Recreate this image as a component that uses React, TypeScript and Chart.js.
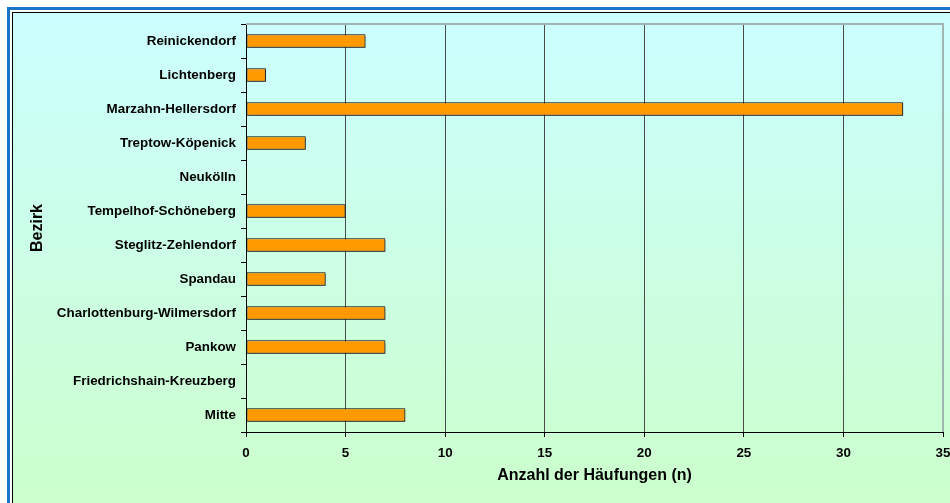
import React, { useEffect, useRef } from 'react';
import { Chart, registerables } from 'chart.js';
Chart.register(...registerables);

const districts = [
  'Reinickendorf',
  'Lichtenberg',
  'Marzahn-Hellersdorf',
  'Treptow-Köpenick',
  'Neukölln',
  'Tempelhof-Schöneberg',
  'Steglitz-Zehlendorf',
  'Spandau',
  'Charlottenburg-Wilmersdorf',
  'Pankow',
  'Friedrichshain-Kreuzberg',
  'Mitte',
];
const counts = [6, 1, 33, 3, 0, 5, 7, 4, 7, 7, 0, 8];
const xMin = 0;
const xMax = 35;
const xStep = 5;
const xTitle = 'Anzahl der Häufungen (n)';
const yTitle = 'Bezirk';

const FONT = '"Liberation Sans", Arial, sans-serif';

export default function App() {
  const ref = useRef<HTMLCanvasElement>(null);
  useEffect(() => {
    document.body.style.margin = '0';
    document.body.style.overflow = 'hidden';
    if (!ref.current) return;
    Chart.defaults.color = '#000';
    const shadow = {
      id: 'barShadow',
      beforeDatasetDraw(chart: any) {
        const c = chart.ctx;
        c.save();
        c.shadowColor = 'rgba(40,40,40,0.55)';
        c.shadowOffsetX = 2;
        c.shadowOffsetY = 2;
        c.shadowBlur = 0;
      },
      afterDatasetDraw(chart: any) {
        chart.ctx.restore();
      },
    };
    const plotBorder = {
      id: 'plotBorder',
      beforeDatasetsDraw(chart: any) {
        const { ctx, chartArea: a } = chart;
        ctx.save();
        ctx.strokeStyle = '#a0b4b4';
        ctx.lineWidth = 2;
        ctx.beginPath();
        ctx.moveTo(a.left, a.top);
        ctx.lineTo(a.right, a.top);
        ctx.lineTo(a.right, a.bottom);
        ctx.stroke();
        ctx.restore();
      },
    };
    const chart = new Chart(ref.current, {
      type: 'bar',
      data: {
        labels: districts,
        datasets: [
          {
            data: counts,
            backgroundColor: '#FF9900',
            borderColor: '#000',
            borderWidth: (c: any) => (c.raw === 0 ? 0 : 1),
            borderSkipped: false,
            barPercentage: 0.39,
            categoryPercentage: 1,
          },
        ],
      },
      plugins: [plotBorder, shadow],
      options: {
        indexAxis: 'y',
        animation: false,
        responsive: false,
        devicePixelRatio: 1,
        layout: { padding: { left: 24, top: 24, right: 7, bottom: 0 } },
        plugins: {
          legend: { display: false },
          tooltip: { enabled: false },
        },
        scales: {
          x: {
            min: xMin,
            max: xMax,
            ticks: {
              stepSize: xStep,
              padding: 8,
              color: '#000',
              font: { family: FONT, size: 13.4, weight: 'bold' },
            },
            grid: {
              color: (c: any) => (c.index === 7 ? '#a0b4b4' : '#4a4a4a'),
              tickColor: '#000',
              tickLength: 5,
              lineWidth: 1,
            },
            border: { display: true, color: '#000', width: 1 },
            title: {
              display: true,
              text: xTitle,
              color: '#000',
              font: { family: FONT, size: 16, weight: 'bold' },
              padding: { top: 4, bottom: 18 },
            },
            afterFit(scale: any) {
              scale.height = 71;
              scale.paddingLeft = 0;
              scale.paddingRight = 0;
            },
          },
          y: {
            ticks: {
              padding: 5,
              color: '#000',
              font: { family: FONT, size: 13.4, weight: 'bold' },
            },
            grid: {
              drawOnChartArea: false,
              drawTicks: true,
              tickLength: 5,
              tickColor: '#000',
              offset: true,
            },
            border: { display: true, color: '#000', width: 1 },
            title: {
              display: true,
              text: yTitle,
              color: '#000',
              font: { family: FONT, size: 16, weight: 'bold' },
              padding: { top: 4, bottom: 4 },
            },
            afterFit(scale: any) {
              scale.width = 222;
              scale.paddingTop = 0;
              scale.paddingBottom = 0;
            },
          },
        },
      },
    } as any);
    return () => chart.destroy();
  }, []);
  return (
    <div style={{ position: 'relative', width: 950, height: 503, overflow: 'hidden', background: '#fff' }}>
      <div style={{ position: 'absolute', left: 7, top: 7, width: 1000, height: 600, background: '#1a74c8' }} />
      <div style={{ position: 'absolute', left: 10, top: 10, width: 1000, height: 600, background: '#fff' }} />
      <div style={{ position: 'absolute', left: 12, top: 12, width: 1000, height: 600, background: '#000' }} />
      <div
        style={{
          position: 'absolute',
          left: 13,
          top: 13,
          width: 1000,
          height: 490,
          background: 'linear-gradient(#ccffff, #ccffcc)',
        }}
      />
      <canvas
        ref={ref}
        width={950}
        height={503}
        style={{ position: 'absolute', left: 0, top: 0, width: 950, height: 503 }}
      />
    </div>
  );
}
